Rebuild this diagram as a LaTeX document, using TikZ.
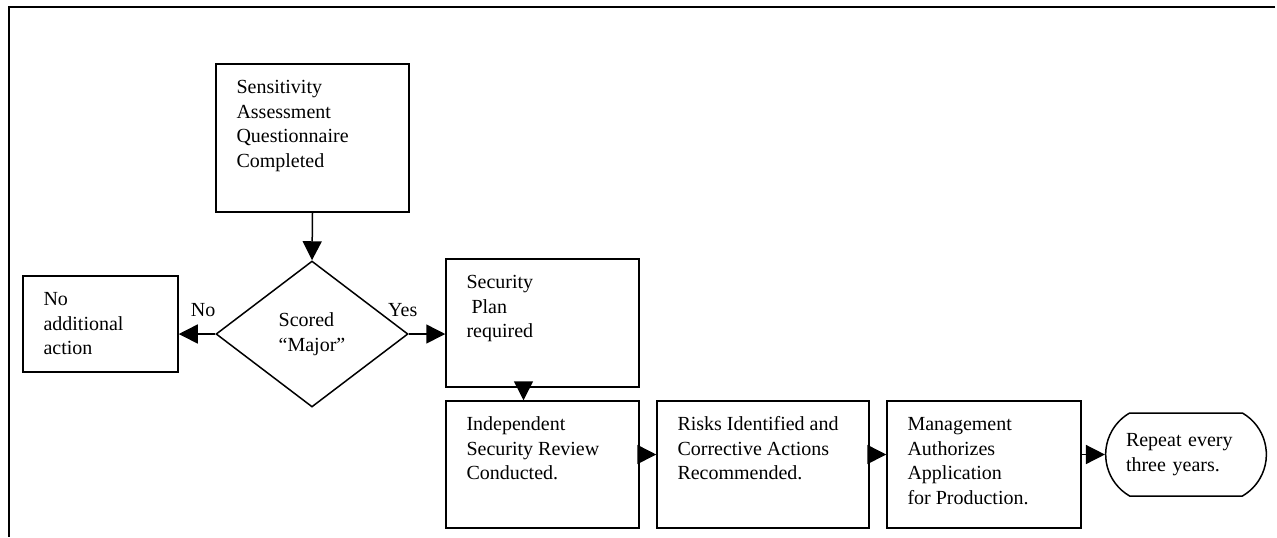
\documentclass[tikz,border=0pt]{standalone}
\usepackage{fontspec}
\setmainfont{Liberation Serif}
\usetikzlibrary{positioning, arrows.meta, shapes.geometric, shapes.misc}

\newcommand{\boxlines}[3]{\parbox[c][#2][t]{#1}{\raggedright\strut#3}}

\begin{document}
\begin{tikzpicture}
    [
        x=0.5pt, y=-0.5pt,
        font=\fontsize{10pt}{12.25pt}\selectfont,
        block/.style={draw, rectangle, line width=0.75pt, inner xsep=10.25pt, inner ysep=6.4pt},
        decision/.style={draw, diamond, line width=0.75pt, minimum width=96pt, minimum height=73pt, align=left, inner sep=0pt},
        terminal/.style={draw, rounded rectangle, rounded rectangle arc length=120, line width=0.75pt, minimum width=87pt, minimum height=41.5pt, text width=60pt, align=left},
        flow/.style={-{Triangle[length=9.5pt, width=9.5pt]}, line width=0.75pt},
        answer/.style={inner sep=0pt, above=8.5pt},
        frame/.style={line width=1pt}
    ]
        \useasboundingbox (0,0) rectangle (1277,537);
        % =========================================================================
        % NODES
        % =========================================================================
        % --- Top ---
        \node [block] (sens) at (312.5,138) {\boxlines{76pt}{61.2pt}{Sensitivity\\Assessment\\Questionnaire\\Completed}};
        % --- Middle row ---
        \node [decision] (score) at (312,334) {Scored\\“Major”};
        \node [block] (noact) at (100.5,324) {\boxlines{57pt}{35.2pt}{No\\additional\\action}};
        \node [block] (plan) at (542.5,323) {\boxlines{76pt}{51.2pt}{Security\\\hspace*{2.5pt}Plan\\required}};
        % --- Bottom row ---
        \node [block] (review) at (542.5,464.5) {\boxlines{76pt}{50.7pt}{Independent\\Security Review\\Conducted.}};
        \node [block] (risks) at (763,464.5) {\boxlines{85.5pt}{50.7pt}{Risks Identified and\\Corrective Actions\\Recommended.}};
        \node [block] (mgmt) at (984,464.5) {\boxlines{76.5pt}{50.7pt}{Management\\Authorizes\\Application\\for Production.}};
        \node [terminal] (repeat) at (1186,454.5) {Repeat every\\three years.};

        % =========================================================================
        % PATHS
        % =========================================================================
        % --- frame ---
        \draw [frame] (1275,7) -- (9,7) -- (9,537);
        % --- decision ---
        \draw [flow] (sens.south) -- (score.north);
        \draw [flow] (score.west) -- node [answer, pos=0.33] (lblno) {No} (score.west -| noact.east);
        \draw [flow] (score.east) -- node [answer, pos=0, xshift=-3pt] (lblyes) {Yes} (score.east -| plan.west);
        % --- chain ---
        \draw [flow] ([xshift=-9.5pt]plan.south) -- ([xshift=-9.5pt]review.north);
        \draw [flow] ([yshift=5pt]review.east) -- ([yshift=5pt]risks.west);
        \draw [flow] ([yshift=5pt]risks.east) -- ([yshift=5pt]mgmt.west);
        \draw [flow] (mgmt.east |- repeat.west) -- (repeat.west);

    \end{tikzpicture}
\end{document}
